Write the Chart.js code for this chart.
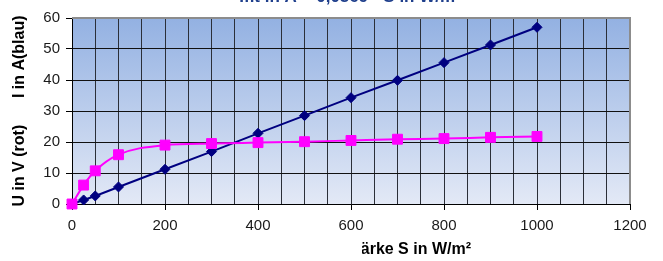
<!DOCTYPE html>
<html>
<head>
<meta charset="utf-8">
<script src="https://cdn.jsdelivr.net/npm/chart.js@4/dist/chart.umd.min.js"></script>
<style>
  html, body { margin: 0; padding: 0; background: #fff; }
  #wrap { width: 663px; height: 261px; }
</style>
</head>
<body>
<div id="wrap"><canvas id="chart" width="663" height="261"></canvas></div>
<script>
// Bestrahlungsstaerke S in W/m²
const irradiance = [0, 25, 50, 100, 200, 300, 400, 500, 600, 700, 800, 900, 1000];
// Strom I in A (blau)
const currentA = [0, 1.3, 2.6, 5.5, 11.2, 16.9, 22.8, 28.5, 34.3, 39.9, 45.6, 51.3, 57.0];
// Spannung U in V (rot)
const voltageV = [0, 6.1, 10.7, 15.9, 19.0, 19.5, 19.8, 20.1, 20.5, 20.9, 21.1, 21.5, 21.8];

const xMin = 0, xMax = 1200, xStep = 50, xLabelStep = 200;
const yMin = 0, yMax = 60, yStep = 10;

const toPoints = (xs, ys) => xs.map((x, i) => ({ x: x, y: ys[i] }));

// gradient plot background + grey frame on top/right, partial titles
const plotDecor = {
    id: 'plotDecor',
    beforeDraw(chart) {
        const { ctx, chartArea: a } = chart;
        const g = ctx.createLinearGradient(0, a.top, 0, a.bottom);
        g.addColorStop(0, '#93b1e2');
        g.addColorStop(1, '#e3e9f6');
        ctx.save();
        ctx.fillStyle = g;
        ctx.fillRect(a.left, a.top, a.right - a.left, a.bottom - a.top);
        ctx.restore();
    },
    beforeDatasetsDraw(chart) {
        const { ctx, chartArea: a } = chart;
        ctx.save();
        ctx.strokeStyle = '#8c8c8c';
        ctx.lineWidth = 2;
        ctx.beginPath();
        ctx.moveTo(a.left, a.top);
        ctx.lineTo(a.right, a.top);
        ctx.lineTo(a.right, a.bottom);
        ctx.stroke();
        ctx.restore();
    },
    afterDraw(chart) {
        const { ctx } = chart;
        ctx.save();
        // chart title, mostly cut off at the top edge
        ctx.fillStyle = '#1f3f8c';
        ctx.font = 'bold 17px "Liberation Sans", Arial, sans-serif';
        ctx.textAlign = 'center';
        ctx.textBaseline = 'alphabetic';
        ctx.fillText('Ifit in A = 0,0569 · S in W/m²', 350, 2);
        // x axis title, left part hidden
        ctx.beginPath();
        ctx.rect(362, 232, 300, 29);
        ctx.clip();
        ctx.fillStyle = '#000';
        ctx.font = 'bold 16px "Liberation Sans", Arial, sans-serif';
        ctx.textAlign = 'right';
        ctx.fillText('Bestrahlungsstärke S in W/m²', 471, 254);
        ctx.restore();
    }
};

new Chart(document.getElementById('chart'), {
    type: 'line',
    data: {
        datasets: [
            {
                label: 'U in V',
                data: toPoints(irradiance, voltageV),
                borderColor: '#ff00ff',
                backgroundColor: '#ff00ff',
                borderWidth: 2,
                pointStyle: 'rect',
                pointRadius: 7,
                pointBorderWidth: 1,
                cubicInterpolationMode: 'monotone',
                clip: false,
                fill: false
            },
            {
                label: 'I in A',
                data: toPoints(irradiance, currentA),
                borderColor: '#000080',
                backgroundColor: '#000080',
                borderWidth: 2,
                pointStyle: 'rectRot',
                pointRadius: 5,
                pointBorderWidth: 1,
                tension: 0,
                clip: false,
                fill: false
            }
        ]
    },
    options: {
        responsive: false,
        animation: false,
        layout: { padding: { left: 0, right: 33, top: 18, bottom: 0 } },
        plugins: {
            legend: { display: false },
            tooltip: { enabled: false },
            title: { display: false }
        },
        scales: {
            x: {
                type: 'linear',
                min: xMin,
                max: xMax,
                afterFit: (s) => { s.height = 57; },
                ticks: {
                    stepSize: xStep,
                    autoSkip: false,
                    maxRotation: 0,
                    padding: 7,
                    color: '#1a1a1a',
                    font: { family: '"Liberation Sans", Arial, sans-serif', size: 15 },
                    callback: (v) => (v % xLabelStep === 0 ? v : '')
                },
                grid: {
                    color: '#2b2f38',
                    lineWidth: 1,
                    tickLength: 6,
                    tickColor: (c) => (c.tick && c.tick.value % xLabelStep === 0 ? '#000' : 'rgba(0,0,0,0)')
                },
                border: { color: '#000', width: 1 }
            },
            y: {
                min: yMin,
                max: yMax,
                afterFit: (s) => { s.width = 72; },
                ticks: {
                    stepSize: yStep,
                    padding: 6,
                    color: '#1a1a1a',
                    font: { family: '"Liberation Sans", Arial, sans-serif', size: 15 }
                },
                grid: {
                    color: '#111',
                    lineWidth: 1,
                    tickLength: 6,
                    tickColor: '#000'
                },
                border: { color: '#000', width: 1 },
                title: {
                    display: true,
                    text: 'U in V (rot)      I in A(blau)',
                    color: '#000',
                    padding: { top: 10, bottom: 0 },
                    font: { family: '"Liberation Sans", Arial, sans-serif', size: 16, weight: 'bold' }
                }
            }
        }
    },
    plugins: [plotDecor]
});
</script>
</body>
</html>
